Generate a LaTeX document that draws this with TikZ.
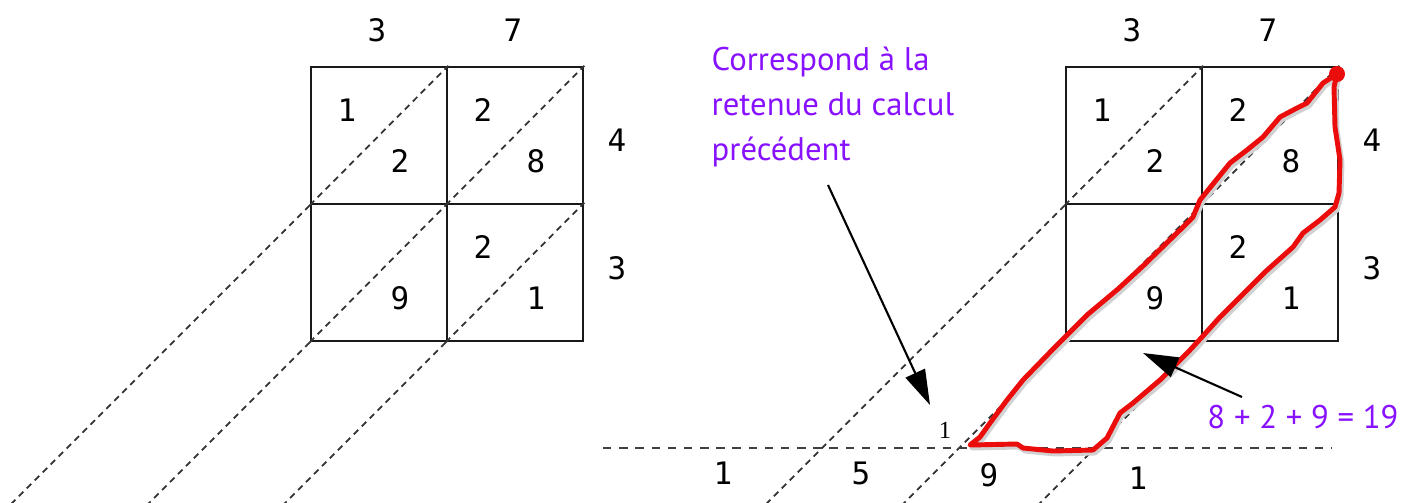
\documentclass[tikz,border=0pt]{standalone}
\usepackage{fontspec}
\newfontfamily\digitfont{DejaVu Sans Mono}
\newfontfamily\notefont{PT Sans}
\newfontfamily\carryfont{Liberation Serif}
\usetikzlibrary{arrows.meta}
\definecolor{notepurple}{RGB}{136,17,255}
\definecolor{tracered}{RGB}{235,12,12}
\newcommand\tracepath{(1337,74) -- (1334,87) -- (1335,127) -- (1340,160) -- (1339,193) -- (1335,207) -- (1320,220) -- (1303,233) -- (1293,247) -- (1265,272) -- (1237,300) -- (1220,317) -- (1202,337) -- (1190,350) -- (1160,380) -- (1133,403) -- (1120,413) -- (1107,438) -- (1093,450) -- (1053,451) -- (1023,448) -- (1017,444) -- (970,445) -- (980,437) -- (990,423) -- (1007,400) -- (1023,380) -- (1056,346) -- (1087,315) -- (1118,289) -- (1144,265) -- (1180,230) -- (1193,217) -- (1200,200) -- (1230,163) -- (1247,150) -- (1263,137) -- (1280,117) -- (1297,108) -- (1307,103) -- (1323,83) -- cycle}
\begin{document}
\begin{tikzpicture}[x=0.01cm,y=-0.01cm,
  every node/.style={font=\digitfont\fontsize{8.8}{10}\selectfont},
  cell/.style={draw=black!90,line width=0.7pt,minimum width=1.36cm,minimum height=1.37cm,inner sep=0pt},
  diag/.style={draw=black!80,line width=0.5pt,dash pattern=on 1.8pt off 1.4pt},
  note/.style={font=\notefont\fontsize{9.3}{12.8}\selectfont,text=notepurple},
  pointer/.style={draw=black,line width=0.6pt,-{Triangle[length=10pt,width=6pt]}},
  trace/.style={draw=tracered,line width=1.4pt,line join=round}]
\useasboundingbox (0,0) rectangle (1418,502);
% the two lattices
\foreach \g/\dx in {L/0,R/755}{
  \node[cell] (\g11) at (379+\dx,135.5) {};
  \node[cell] (\g12) at (515+\dx,135.5) {};
  \node[cell] (\g21) at (379+\dx,272.5) {};
  \node[cell] (\g22) at (515+\dx,272.5) {};
  \foreach \c in {11,12,21,22}
    \draw[diag] (\g\c.south west) -- (\g\c.north east);
  \draw[diag] (\g11.south west) -- ++(-298,298);
  \draw[diag] (\g21.south west) -- ++(-161,161);
  \draw[diag] (\g22.south west) -- ++(-161,161);
  \foreach \c/\d in {11/1,12/2,22/2}
    \node (\g\c t) at ([shift={(-32,-25)}]\g\c) {\d};
  \foreach \c/\d in {11/2,12/8,21/9,22/1}
    \node (\g\c b) at ([shift={(21,26)}]\g\c) {\d};
  \node (\g c1) at ([shift={(-2,-105)}]\g11) {3};
  \node (\g c2) at ([shift={(-2,-105)}]\g12) {7};
  \node (\g r1) at ([shift={(102,5)}]\g12) {4};
  \node (\g r2) at ([shift={(102,-4)}]\g22) {3};
}
% result line
\coordinate (bw) at (603,448);
\coordinate (be) at (1332,448);
\draw[draw=black!75,line width=0.55pt,dash pattern=on 2.4pt off 2.2pt] (bw) -- (be);
\node (res1) at (723,473) {1};
\node (res5) at (861,473) {5};
\node (res9) at (989,475) {9};
\node (res1b) at (1138,478) {1};
\node[font=\carryfont\fontsize{7}{8}\selectfont] (carry) at (945,430) {1};
% sum of the diagonal
\draw[black!18,line width=1.4pt,line join=round,shift={(2,3)}] \tracepath;
\draw[trace] \tracepath;
\node[circle,fill=tracered,inner sep=0pt,minimum size=0.16cm] (tip) at (1337,74) {};
% notes
\node[note,align=left,anchor=west,inner sep=0pt] (note) at (711,107) {Correspond à la\\retenue du calcul\\précédent};
\node[note,inner sep=0pt] (sum) at (1303,417) {8 + 2 + 9 = 19};
\coordinate (a1s) at (828,185);
\coordinate (a1e) at (930,405);
\coordinate (a2s) at (1242,397);
\coordinate (a2e) at (1143,353);
\draw[pointer] (a1s) -- (a1e);
\draw[pointer] (a2s) -- (a2e);
\end{tikzpicture}
\end{document}
